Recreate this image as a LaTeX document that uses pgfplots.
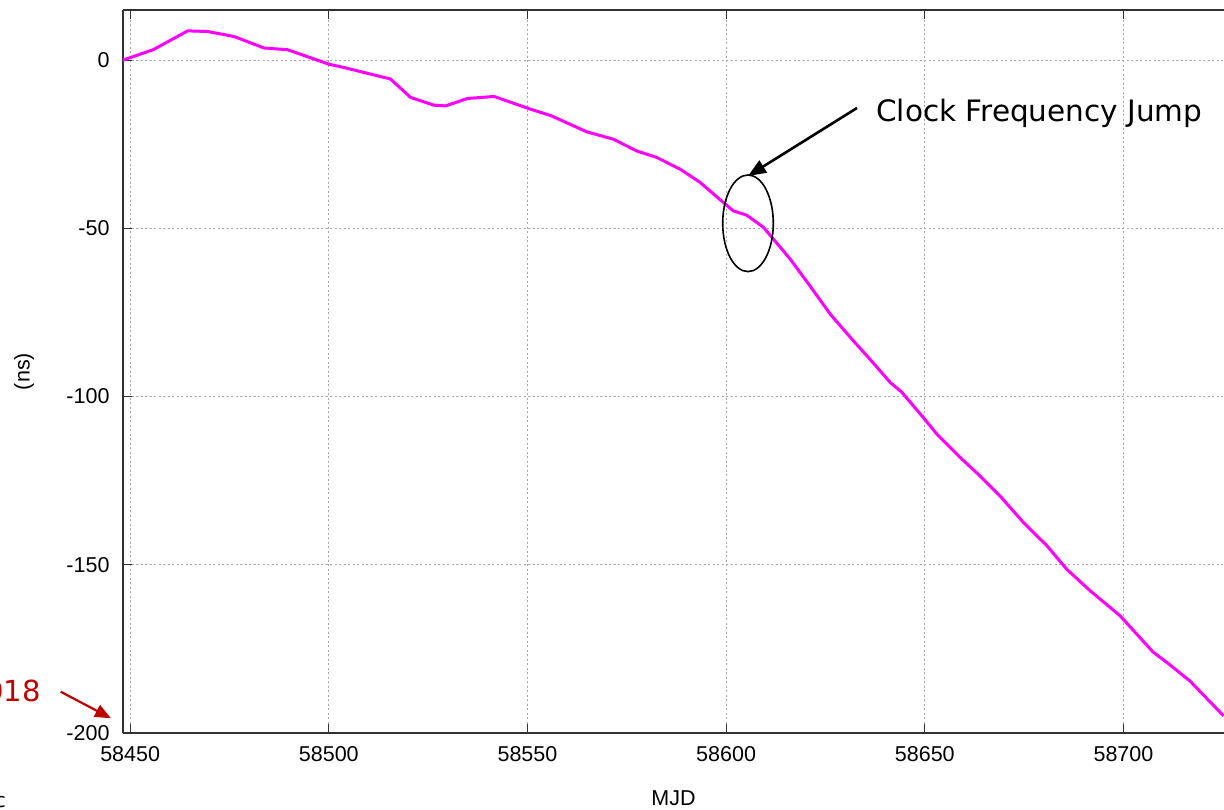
\documentclass[border=0pt]{standalone}
\usepackage{fontspec}
\setmainfont{Liberation Sans}
\newfontfamily\dejavu{DejaVu Sans}
\usepackage{pgfplots}
\pgfplotsset{compat=1.18}
\usetikzlibrary{arrows.meta}
\definecolor{clkmag}{RGB}{255,0,255}
\definecolor{slidered}{RGB}{192,0,0}
\definecolor{axgray}{RGB}{50,50,50}

\pgfplotstableread{
mjd ns
58448.2 0.0
58455.8 3.1
58464.5 8.7
58469.5 8.5
58476.2 7.0
58483.7 3.6
58489.6 3.1
58500.0 -1.2
58503.8 -2.2
58515.5 -5.6
58520.6 -11.1
58526.5 -13.4
58529.4 -13.6
58534.9 -11.4
58541.6 -10.8
58550.8 -14.6
58555.9 -16.5
58564.9 -21.3
58571.6 -23.5
58577.5 -27.0
58582.5 -28.9
58588.4 -32.4
58593.4 -36.3
58598.5 -41.5
58601.8 -44.8
58605.2 -46.1
58609.4 -49.7
58611.9 -53.2
58616.1 -59.1
58621.1 -67.1
58626.2 -75.5
58632.0 -83.4
58636.2 -88.9
58641.3 -95.8
58644.2 -98.7
58649.6 -106.2
58653.0 -111.1
58658.9 -118.1
58663.9 -123.6
58668.9 -129.5
58674.8 -137.4
58680.7 -144.3
58685.7 -151.3
58691.6 -157.7
58699.1 -165.1
58707.5 -176.0
58710.9 -179.0
58716.7 -184.5
58725.2 -194.9
}\clockdata

\begin{document}
\begin{tikzpicture}
  \useasboundingbox (0pt,0pt) rectangle (1224pt,809pt);
  \clip (0pt,0pt) rectangle (1224pt,809pt);
  \begin{axis}[
      at={(123pt,76pt)}, anchor=south west,
      scale only axis,
      width=1101pt, height=723pt,
      xmin=58448.2, xmax=58725.3,
      ymin=-200, ymax=14.9,
      axis x line*=box, axis y line*=left,
      axis line style={axgray, line width=1.3pt},
      xtick={58450,58500,...,58700},
      ytick={-200,-150,...,0},
      scaled x ticks=false,
      xticklabel={\pgfmathprintnumber[fixed, precision=0, 1000 sep={}]{\tick}},
      tick align=inside,
      major tick length=9pt,
      tick style={axgray, line width=1.2pt},
      grid=major,
      major grid style={gray!70, line width=1pt, dash pattern=on 2pt off 2.5pt},
      /pgf/number format/assume math mode=true,
      /pgf/number format/1000 sep={},
      ticklabel style={font=\fontsize{21.5}{24}\selectfont},
      xticklabel style={yshift=-10pt},
      yticklabel style={xshift=-10pt},
      xlabel={MJD},
      ylabel={(ns)},
      label style={font=\fontsize{21.5}{24}\selectfont},
      xlabel style={at={(axis description cs:0.5,0)}, anchor=center, yshift=-65pt},
      ylabel style={at={(axis description cs:-0.0899,0.5)}, anchor=center},
    ]
    \addplot[clkmag, line width=3pt, line join=round] table[x=mjd, y=ns] {\clockdata};
  \end{axis}

  % annotations from the slide, in pixel units
  \begin{scope}[x=1pt, y=1pt]
    \draw[black, line width=1.6pt] (748,585.7) ellipse [x radius=25.3, y radius=48.3];
    \draw[black, line width=2.6pt, -{Triangle[length=18pt, width=14pt]}] (857,701) -- (748,633);
    \node[anchor=base west, inner sep=0pt, font=\dejavu\fontsize{29.5}{33}\selectfont] at (876,687.3) {Clock Frequency Jump};
    \node[anchor=base east, inner sep=0pt, text=slidered, font=\dejavu\fontsize{29}{33}\selectfont] at (41,107.3) {2018};
    \draw[slidered, line width=2.2pt, -{Triangle[length=16pt, width=13pt]}] (60.7,117.3) -- (111,90.7);
    \node[anchor=base east, inner sep=0pt, font=\dejavu\fontsize{20}{24}\selectfont] at (6,2) {c};
  \end{scope}
\end{tikzpicture}
\end{document}
